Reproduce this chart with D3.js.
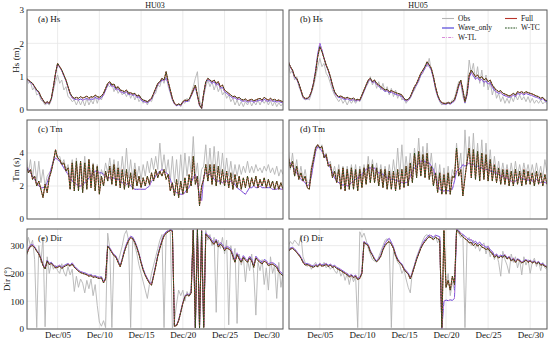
<!DOCTYPE html>
<html>
<head>
<meta charset="utf-8">
<script src="https://cdn.jsdelivr.net/npm/d3@7"></script>
<style>
  body { margin: 0; background: #fff; }
  svg { display: block; font-family: 'Liberation Serif', 'Times New Roman', serif; }
</style>
</head>
<body>
<svg id="chart" width="550" height="341"></svg>
<script>
// stations, ticks, legend
const stations = ['HU03', 'HU05'];
const tickDays = [5, 10, 15, 20, 25, 30];
const hsTicks = [0, 1, 2, 3];
const tmTicks = [0, 2, 4];
const dirTicks = [0, 100, 200, 300];
const seriesNames = ['Obs', 'Wave_only', 'W-TL', 'Full', 'W-TC'];

// 6-hourly values, Dec 1 06:00 .. Jan 1 00:00 (124 samples)
const hsA_obs = [
  1.0,0.8,0.85,0.6,0.7,0.45,0.5,0.3,0.25,0.15,
  0.2,0.15,0.3,0.6,0.85,1.05,0.8,0.9,0.6,0.7,
  0.4,0.35,0.25,0.3,0.15,0.3,0.15,0.3,0.12,0.35,
  0.15,0.3,0.18,0.4,0.2,0.4,0.3,0.5,0.6,0.75,
  0.7,0.8,0.55,0.7,0.5,0.6,0.45,0.55,0.4,0.55,
  0.35,0.5,0.3,0.45,0.25,0.35,0.2,0.3,0.15,0.3,
  0.25,0.45,0.5,0.75,0.7,0.95,0.8,1.05,0.7,0.5,
  0.3,0.2,0.12,0.2,0.1,0.25,0.2,0.35,0.25,0.5,
  0.7,0.95,1.15,0.3,0.08,0.4,0.7,0.9,0.7,0.85,
  0.6,0.8,0.55,0.7,0.45,0.55,0.35,0.45,0.25,0.35,
  0.15,0.3,0.12,0.25,0.1,0.25,0.15,0.28,0.12,0.25,
  0.15,0.3,0.15,0.3,0.2,0.3,0.15,0.28,0.12,0.25,
  0.1,0.22,0.12,0.2];
const hsA_full = [
  0.95,0.9,0.85,0.8,0.7,0.6,0.55,0.4,0.3,0.2,
  0.25,0.2,0.35,0.7,1.1,1.4,1.3,1.2,1.05,0.9,
  0.7,0.5,0.4,0.35,0.38,0.35,0.4,0.36,0.38,0.42,
  0.35,0.4,0.38,0.45,0.4,0.38,0.42,0.5,0.65,0.8,
  0.85,0.75,0.78,0.65,0.7,0.6,0.58,0.55,0.6,0.5,
  0.52,0.48,0.5,0.42,0.45,0.35,0.3,0.28,0.25,0.3,
  0.35,0.5,0.65,0.8,0.85,0.95,0.9,1.15,0.85,0.6,
  0.35,0.2,0.15,0.18,0.15,0.25,0.3,0.28,0.32,0.45,
  0.6,0.75,0.45,0.15,0.05,0.5,0.85,0.95,0.9,0.85,
  0.9,0.8,0.85,0.7,0.75,0.6,0.55,0.5,0.45,0.4,
  0.42,0.35,0.38,0.32,0.3,0.33,0.28,0.3,0.32,0.28,
  0.3,0.33,0.35,0.3,0.38,0.33,0.3,0.35,0.3,0.32,
  0.28,0.3,0.27,0.25];
const hsA_wave = [
  0.95,0.88,0.82,0.78,0.68,0.58,0.52,0.38,0.28,0.2,
  0.22,0.2,0.33,0.68,1.08,1.38,1.28,1.18,1.02,0.88,
  0.68,0.48,0.36,0.32,0.32,0.3,0.33,0.3,0.32,0.35,
  0.3,0.33,0.32,0.38,0.34,0.33,0.37,0.45,0.6,0.75,
  0.8,0.7,0.72,0.6,0.64,0.55,0.53,0.5,0.55,0.46,
  0.48,0.44,0.46,0.38,0.4,0.3,0.26,0.24,0.22,0.27,
  0.32,0.47,0.62,0.76,0.82,0.9,0.88,0.95,0.8,0.55,
  0.32,0.18,0.13,0.16,0.13,0.22,0.27,0.25,0.29,0.42,
  0.56,0.7,0.42,0.13,0.05,0.48,0.82,0.92,0.86,0.8,
  0.85,0.75,0.79,0.65,0.68,0.55,0.5,0.45,0.4,0.36,
  0.37,0.31,0.33,0.28,0.26,0.28,0.24,0.26,0.27,0.24,
  0.26,0.28,0.3,0.26,0.32,0.28,0.26,0.3,0.26,0.27,
  0.24,0.26,0.23,0.22];

const hsB_obs = [
  1.35,1.1,1.2,0.9,1.0,0.7,0.55,0.35,0.3,0.35,
  0.3,0.5,0.7,1.0,1.3,1.55,1.3,1.4,1.1,1.0,
  0.8,0.6,0.45,0.35,0.25,0.35,0.2,0.3,0.15,0.3,
  0.2,0.3,0.2,0.3,0.25,0.4,0.55,0.7,0.8,1.0,
  0.75,0.9,0.65,0.85,0.6,0.8,0.55,0.7,0.45,0.65,
  0.4,0.6,0.35,0.5,0.3,0.35,0.2,0.3,0.35,0.5,
  0.6,0.75,0.85,1.05,1.1,1.35,1.3,1.55,1.2,1.0,
  0.6,0.4,0.25,0.15,0.2,0.15,0.25,0.2,0.3,0.35,
  0.6,0.85,0.8,0.4,0.2,0.7,1.5,1.1,1.4,0.9,
  1.3,0.8,1.2,0.7,1.05,0.6,0.85,0.45,0.7,0.35,
  0.5,0.25,0.4,0.2,0.35,0.2,0.4,0.25,0.45,0.3,
  0.45,0.3,0.4,0.25,0.4,0.22,0.35,0.2,0.3,0.2,
  0.3,0.18,0.25,0.2];
const hsB_full = [
  1.45,1.3,1.2,1.0,0.95,0.8,0.6,0.4,0.35,0.35,
  0.4,0.55,0.8,1.15,1.6,1.9,1.75,1.55,1.35,1.2,
  1.0,0.75,0.55,0.45,0.4,0.42,0.38,0.35,0.38,0.35,
  0.33,0.36,0.3,0.32,0.3,0.45,0.6,0.75,0.9,0.95,
  0.85,0.9,0.8,0.75,0.7,0.65,0.6,0.62,0.55,0.58,
  0.55,0.52,0.5,0.48,0.45,0.35,0.3,0.32,0.4,0.55,
  0.7,0.8,0.95,1.1,1.2,1.3,1.45,1.35,1.25,1.0,
  0.7,0.45,0.3,0.22,0.2,0.2,0.22,0.2,0.25,0.3,
  0.5,0.75,0.9,0.6,0.25,0.5,1.05,1.2,1.1,1.0,
  1.05,0.95,1.0,0.9,0.95,0.85,0.9,0.75,0.65,0.6,
  0.55,0.58,0.5,0.48,0.45,0.42,0.45,0.5,0.45,0.55,
  0.52,0.55,0.5,0.55,0.52,0.5,0.48,0.45,0.42,0.4,
  0.35,0.38,0.3,0.28];
const hsB_wave = [
  1.45,1.28,1.18,0.98,0.92,0.78,0.58,0.38,0.33,0.33,
  0.38,0.55,0.82,1.2,1.68,2.0,1.8,1.55,1.33,1.18,
  0.97,0.72,0.52,0.42,0.37,0.38,0.34,0.31,0.34,0.31,
  0.29,0.32,0.27,0.29,0.28,0.42,0.57,0.72,0.87,0.92,
  0.82,0.86,0.76,0.71,0.66,0.61,0.56,0.58,0.51,0.54,
  0.5,0.47,0.45,0.43,0.4,0.31,0.27,0.29,0.37,0.52,
  0.66,0.76,0.9,1.05,1.15,1.25,1.4,1.3,1.2,0.95,
  0.66,0.42,0.27,0.2,0.18,0.18,0.2,0.18,0.22,0.27,
  0.46,0.7,0.85,0.55,0.22,0.45,0.98,1.12,1.02,0.93,
  0.97,0.88,0.92,0.83,0.87,0.78,0.82,0.68,0.59,0.54,
  0.5,0.52,0.45,0.43,0.4,0.38,0.4,0.45,0.4,0.5,
  0.47,0.5,0.45,0.5,0.47,0.45,0.43,0.4,0.38,0.36,
  0.31,0.34,0.27,0.25];

const tmA_obs = [
  3.8,2.8,3.6,2.5,3.5,2.3,3.5,2.2,3.0,2.0,
  2.6,2.8,3.0,3.6,4.0,3.7,3.8,3.3,3.6,3.0,
  3.3,2.5,3.6,2.4,3.7,2.3,3.5,2.4,3.8,2.5,
  3.6,2.4,3.4,2.3,3.3,2.2,3.0,2.6,3.4,2.8,
  3.7,2.7,3.6,2.6,3.5,2.5,3.8,2.6,4.3,2.5,
  3.6,2.4,3.4,2.5,3.2,2.4,3.3,2.6,3.5,2.8,
  3.7,3.0,3.8,3.0,4.6,3.0,3.9,2.8,3.6,2.3,
  3.8,2.2,3.6,2.1,3.9,2.3,4.0,2.6,3.8,2.8,
  5.0,2.6,3.4,2.0,3.0,3.2,4.5,2.8,4.3,2.7,
  4.4,2.8,4.1,2.7,4.0,2.6,3.7,2.6,3.5,2.5,
  3.3,2.6,3.3,2.7,3.2,2.8,3.5,2.8,3.2,2.8,
  3.3,2.9,3.1,2.8,3.2,2.9,3.3,2.8,3.1,2.7,
  3.2,2.6,3.0,2.7];
const tmA_full = [
  3.2,2.8,3.0,2.4,2.6,2.0,2.3,1.8,1.3,2.1,
  1.6,2.5,2.9,3.5,4.2,3.7,3.6,3.3,3.4,2.9,
  3.1,1.8,3.4,1.7,3.5,1.7,3.5,1.6,3.4,1.8,
  3.6,1.9,3.3,1.7,3.2,1.5,2.6,2.0,2.9,2.3,
  3.2,2.1,3.3,2.0,3.1,1.9,3.0,1.8,3.0,1.9,
  2.8,1.8,3.0,2.0,2.6,1.9,2.5,2.0,2.6,2.1,
  2.8,2.3,3.0,2.5,2.9,2.6,3.0,2.4,2.7,1.7,
  2.2,1.4,2.4,1.3,2.3,1.5,2.5,1.6,2.7,2.0,
  3.8,2.1,2.6,0.8,2.0,2.4,3.3,2.3,3.3,2.1,
  3.3,2.0,3.2,2.1,3.0,2.0,2.9,1.9,2.8,1.8,
  2.7,1.9,2.6,1.8,2.5,1.9,2.6,1.9,2.5,2.0,
  2.6,1.9,2.4,2.0,2.5,1.9,2.4,1.9,2.3,1.8,
  2.3,1.8,2.2,1.8];
const tmA_wave = [
  3.2,3.0,2.8,2.6,2.4,2.2,2.0,1.9,1.9,1.95,
  2.2,2.6,3.1,3.5,3.7,3.6,3.5,3.3,3.1,2.9,
  2.7,2.5,2.3,2.2,2.1,2.0,2.0,2.1,2.2,2.3,
  2.5,2.6,2.8,2.9,2.9,2.8,2.8,2.7,2.6,2.5,
  2.5,2.4,2.5,2.4,2.4,2.3,2.2,2.2,2.1,2.2,
  2.0,1.9,1.8,1.8,1.8,1.8,1.8,1.8,1.9,2.0,
  2.3,2.4,2.6,2.8,2.9,3.0,2.9,2.8,2.7,2.4,
  2.0,1.7,1.6,1.55,1.5,1.5,1.6,1.8,1.9,2.2,
  2.5,2.7,2.2,1.4,1.1,2.6,2.8,2.7,2.7,2.6,
  2.4,2.3,2.3,2.3,2.2,2.3,2.3,2.2,2.3,2.2,
  2.1,1.9,1.8,1.7,1.6,1.5,1.7,1.9,1.9,2.0,
  1.9,1.9,2.0,1.9,1.9,1.9,1.9,1.9,1.8,1.8,
  1.8,1.9,1.8,1.8];

const tmB_obs = [
  4.2,3.0,4.0,2.8,3.6,2.5,3.2,2.4,3.0,2.2,
  2.2,3.2,3.8,4.4,4.5,4.2,4.5,3.8,4.0,3.3,
  3.5,2.7,3.2,2.5,3.3,2.2,3.2,2.2,3.2,2.3,
  3.3,2.4,3.3,2.3,3.2,2.4,3.3,2.5,3.8,2.6,
  3.6,2.6,3.4,2.5,3.3,2.4,3.2,2.4,3.3,2.4,
  3.6,2.5,4.3,2.6,4.5,2.6,3.8,2.7,4.0,2.8,
  4.3,3.0,4.9,3.1,4.4,3.0,4.6,2.9,4.0,2.6,
  3.4,2.1,3.3,2.0,3.1,2.0,3.2,2.1,3.0,2.6,
  4.6,3.0,4.0,2.0,5.4,3.2,5.0,3.0,5.2,3.0,
  4.6,2.9,4.8,2.8,4.6,2.8,4.2,2.7,3.8,2.7,
  3.5,2.6,3.4,2.6,3.3,2.5,3.4,2.5,3.5,2.6,
  3.3,2.6,3.4,2.7,3.3,2.6,3.3,2.6,3.4,2.6,
  3.2,2.5,3.6,2.8];
const tmB_full = [
  3.8,3.1,3.5,2.6,3.2,2.4,2.8,2.3,2.6,1.9,
  1.8,3.0,3.6,4.3,4.5,4.3,4.4,3.7,3.9,3.2,
  3.3,2.5,2.9,2.2,3.0,1.8,3.1,1.7,3.0,1.8,
  3.1,1.8,3.0,1.7,3.0,1.9,3.1,2.1,3.3,2.2,
  3.3,2.2,3.1,2.0,3.0,1.9,3.0,1.8,2.9,1.8,
  2.9,1.7,3.0,1.8,3.0,1.9,3.2,2.0,3.4,2.2,
  4.0,2.5,4.1,2.6,3.9,2.5,4.0,2.4,3.2,2.0,
  2.8,1.6,2.8,1.5,2.7,1.5,2.8,1.5,2.6,2.5,
  4.3,2.6,3.0,1.4,2.5,3.5,4.3,2.5,4.2,2.4,
  4.1,2.3,4.0,2.4,3.9,2.3,3.6,2.3,3.3,2.2,
  3.1,2.1,3.0,2.1,3.0,2.0,2.9,2.0,3.0,2.1,
  2.9,2.0,3.0,2.1,2.9,2.1,2.8,2.0,2.9,2.1,
  2.8,2.0,2.7,2.1];
const tmB_wave = [
  3.5,3.4,3.2,3.0,2.8,2.6,2.4,2.3,2.2,2.0,
  2.1,2.6,3.4,4.1,4.4,4.3,4.1,3.9,3.7,3.4,
  3.1,2.8,2.5,2.3,2.2,2.1,2.05,2.1,2.0,2.1,
  2.2,2.3,2.4,2.5,2.6,2.7,2.9,3.0,3.1,3.1,
  3.0,3.1,2.9,2.8,2.8,2.7,2.6,2.5,2.5,2.4,
  2.4,2.35,2.3,2.3,2.2,2.2,2.2,2.3,2.6,2.9,
  3.1,3.2,3.4,3.5,3.5,3.5,3.4,3.4,3.2,3.0,
  2.6,2.1,1.8,1.7,1.7,1.75,1.7,1.8,1.8,2.3,
  2.9,3.0,3.1,3.3,3.2,3.3,3.4,3.3,3.3,3.2,
  3.2,3.1,3.1,3.0,3.0,3.0,2.9,2.9,2.8,2.8,
  2.7,2.6,2.6,2.5,2.5,2.4,2.3,2.2,2.3,2.4,
  2.5,2.5,2.4,2.4,2.35,2.4,2.3,2.3,2.4,2.3,
  2.2,2.3,2.2,2.2];

const dirA_obs = [
  290,330,300,320,250,5,300,240,330,8,
  260,200,240,215,230,210,200,235,205,190,
  225,195,215,135,190,150,180,165,130,175,
  145,180,120,160,85,25,10,30,5,345,
  290,5,270,260,240,270,300,340,355,320,
  5,330,300,270,230,200,170,140,110,160,
  200,230,260,290,320,340,5,345,355,350,
  3,30,90,140,120,140,100,135,120,145,
  355,10,350,5,340,3,355,320,340,300,
  330,60,320,290,330,270,320,15,300,250,
  290,20,270,230,260,170,250,210,270,200,
  50,240,210,250,160,220,140,260,200,230,
  110,240,150,200];
const dirA_full = [
  265,285,298,300,293,280,270,252,228,216,
  245,232,236,228,220,222,226,218,224,228,
  232,226,234,222,215,208,203,200,198,195,
  190,192,186,188,184,182,184,166,180,298,
  288,275,264,258,240,224,250,278,300,318,
  329,325,312,292,268,238,212,193,178,165,
  158,190,225,262,290,315,335,345,350,355,
  352,10,12,30,60,92,116,124,118,130,
  356,4,358,3,354,6,342,332,325,312,
  305,318,295,305,298,282,292,288,282,262,
  240,268,252,240,258,248,240,256,245,222,
  256,246,240,234,244,240,228,232,233,228,
  222,205,198,191];
const dirA_wave = [
  268,290,302,305,296,283,272,255,232,220,
  248,236,240,232,224,226,230,222,228,232,
  236,230,238,226,219,212,207,204,202,199,
  194,196,190,192,188,186,188,170,184,300,
  292,279,268,262,244,228,254,284,306,324,
  334,330,316,296,272,242,216,197,182,169,
  162,194,229,266,295,320,340,350,354,357,
  355,12,14,33,63,95,119,127,121,133,
  357,5,358,4,355,8,346,337,331,318,
  311,323,301,311,304,288,298,294,288,268,
  246,274,258,246,264,254,246,262,251,228,
  262,252,246,240,250,246,234,238,239,234,
  228,211,204,197];

const dirB_obs = [
  300,315,305,320,310,300,338,260,240,225,
  235,215,230,240,222,235,228,240,220,230,
  215,225,210,200,220,190,205,175,200,160,
  195,170,190,5,350,330,345,320,290,270,
  250,245,240,260,280,300,320,325,310,5,
  280,260,240,230,200,215,180,150,130,210,
  230,260,280,300,320,335,340,330,338,320,
  335,310,330,10,350,150,200,120,170,140,
  350,345,330,340,5,320,330,300,320,290,
  310,280,300,310,270,300,260,280,250,270,
  240,190,280,250,230,200,270,240,260,220,
  250,195,260,230,250,200,240,255,225,245,
  210,240,220,215];
const dirB_full = [
  278,288,290,284,275,266,255,240,230,232,
  228,225,222,228,225,232,226,228,232,225,
  230,222,225,218,214,210,205,200,195,188,
  192,185,190,178,182,200,312,305,300,278,
  265,250,242,250,262,285,300,310,315,305,
  290,265,248,238,230,215,205,198,180,200,
  225,250,270,290,305,315,325,332,328,322,
  330,325,320,5,355,150,175,140,190,160,
  356,350,340,332,325,320,310,312,300,308,
  298,305,295,292,286,290,278,272,258,265,
  255,262,258,265,252,258,245,252,240,250,
  245,238,242,248,240,245,238,242,235,240,
  230,232,226,222];
const dirB_wave = [
  280,292,294,288,279,270,259,244,234,236,
  232,229,226,232,229,236,230,232,236,229,
  234,226,229,222,218,214,209,204,199,192,
  196,189,194,182,186,204,316,309,304,282,
  269,254,246,254,266,290,308,320,326,312,
  295,270,252,242,234,219,209,202,184,204,
  229,254,274,294,310,322,332,338,336,330,
  338,335,332,2,100,104,102,105,103,110,
  358,355,346,340,334,328,320,322,310,316,
  306,313,303,300,294,297,285,279,264,270,
  260,266,262,268,256,261,249,255,244,253,
  248,242,245,251,243,248,241,245,238,243,
  233,235,229,225];

const styles = {
  'Obs':       { color: '#b4b4b4', dash: null, width: 0.9 },
  'Wave_only': { color: '#4436d6', dash: null, width: 0.9 },
  'W-TL':      { color: '#d98bd9', dash: '3,1.2,0.8,1.2', width: 0.9 },
  'Full':      { color: '#b8352b', dash: null, width: 1 },
  'W-TC':      { color: '#24511c', dash: '1.8,1', width: 1 }
};

const times = hsA_obs.map((d, i) => new Date(2020, 11, 1, 6 + 6 * i));
const tickDates = tickDays.map(d => new Date(2020, 11, d));

const cols = [[27, 283], [289, 547]];
const rows = [
  { top: 10, bottom: 110, domain: [0, 3], ticks: hsTicks, title: 'Hs (m)', labelX: 18.5 },
  { top: 120, bottom: 219, domain: [0, 6], ticks: tmTicks, title: 'Tm (s)', labelX: 18.5 },
  { top: 229, bottom: 329, domain: [0, 360], ticks: dirTicks, title: 'Dir (°)', labelX: 10 }
];
const panels = [
  { label: '(a) Hs', row: 0, col: 0, obs: hsA_obs, wave: hsA_wave, full: hsA_full },
  { label: '(b) Hs', row: 0, col: 1, obs: hsB_obs, wave: hsB_wave, full: hsB_full },
  { label: '(c) Tm', row: 1, col: 0, obs: tmA_obs, wave: tmA_wave, full: tmA_full },
  { label: '(d) Tm', row: 1, col: 1, obs: tmB_obs, wave: tmB_wave, full: tmB_full },
  { label: '(e) Dir', row: 2, col: 0, obs: dirA_obs, wave: dirA_wave, full: dirA_full },
  { label: '(f) Dir', row: 2, col: 1, obs: dirB_obs, wave: dirB_wave, full: dirB_full }
];

const svg = d3.select('#chart');

panels.forEach((p, k) => {
  const r = rows[p.row];
  const [left, right] = cols[p.col];
  const x = d3.scaleTime()
    .domain([new Date(2020, 11, 1, 8), new Date(2021, 0, 1, 0)])
    .range([left, right]);
  const y = d3.scaleLinear().domain(r.domain).range([r.bottom, r.top]);
  const g = svg.append('g');

  g.append('clipPath').attr('id', 'clip' + k)
    .append('rect')
    .attr('x', left).attr('y', r.top)
    .attr('width', right - left).attr('height', r.bottom - r.top);

  // grid
  g.append('g')
    .selectAll('line')
    .data(tickDates)
    .enter()
    .append('line')
    .attr('x1', d => x(d)).attr('x2', d => x(d))
    .attr('y1', r.top).attr('y2', r.bottom)
    .attr('stroke', '#e6e6e6').attr('stroke-width', 0.8);
  g.append('g')
    .selectAll('line')
    .data(r.ticks)
    .enter()
    .append('line')
    .attr('x1', left).attr('x2', right)
    .attr('y1', d => y(d)).attr('y2', d => y(d))
    .attr('stroke', '#e6e6e6').attr('stroke-width', 0.8);

  const line = d3.line()
    .x((d, i) => x(times[i]))
    .y(d => y(d));
  const plotted = [
    ['Obs', p.obs], ['Wave_only', p.wave], ['W-TL', p.wave], ['Full', p.full], ['W-TC', p.full]
  ];
  const lines = g.append('g').attr('clip-path', `url(#clip${k})`);
  plotted.forEach(([name, vals]) => {
    const s = styles[name];
    lines.append('path')
      .datum(vals)
      .attr('d', line)
      .attr('fill', 'none')
      .attr('stroke', s.color)
      .attr('stroke-width', s.width)
      .attr('stroke-linejoin', 'round')
      .attr('stroke-dasharray', s.dash);
  });

  // frame
  g.append('rect')
    .attr('x', left).attr('y', r.top)
    .attr('width', right - left).attr('height', r.bottom - r.top)
    .attr('fill', 'none').attr('stroke', '#5a5a5a').attr('stroke-width', 1);

  g.append('text')
    .attr('x', left + 11).attr('y', r.top + 11.5)
    .attr('font-size', 9).attr('fill', '#111')
    .text(p.label);

  if (p.col === 0) {
    const ya = g.append('g')
      .attr('transform', `translate(${left - 2}, 0)`)
      .call(d3.axisLeft(y).tickValues(r.ticks).tickSize(0).tickPadding(1)
        .tickFormat(d3.format('d')));
    ya.select('.domain').remove();
    ya.attr('font-family', null);
    ya.selectAll('text')
      .attr('font-size', 9).attr('fill', '#111');
    g.append('text')
      .attr('transform', `translate(${r.labelX}, ${(r.top + r.bottom) / 2}) rotate(-90)`)
      .attr('text-anchor', 'middle')
      .attr('font-size', 9).attr('fill', '#111')
      .text(r.title);
  }
  if (p.row === 0) {
    g.append('text')
      .attr('x', (left + right) / 2).attr('y', 8)
      .attr('text-anchor', 'middle')
      .attr('font-size', 8).attr('fill', '#111')
      .text(stations[p.col]);
  }
  if (p.row === 2) {
    const xa = g.append('g')
      .attr('transform', `translate(0, ${r.bottom})`)
      .call(d3.axisBottom(x).tickValues(tickDates).tickSize(0).tickPadding(3)
        .tickFormat(d3.timeFormat('%b/%d')));
    xa.select('.domain').remove();
    xa.attr('font-family', null);
    xa.selectAll('text')
      .attr('font-size', 9).attr('fill', '#111');
  }
});

// legend in panel (b)
const legendPos = [[442, 18.5], [442, 28], [442, 37.5], [505, 18.5], [505, 28]];
const legend = svg.append('g')
  .attr('font-size', 7.5)
  .selectAll('g')
  .data(seriesNames)
  .enter()
  .append('g')
  .attr('transform', (d, i) => `translate(${legendPos[i][0]}, ${legendPos[i][1]})`);
legend.append('line')
  .attr('x1', 0).attr('x2', 12)
  .attr('stroke', d => styles[d].color)
  .attr('stroke-width', 1.1)
  .attr('stroke-dasharray', d => styles[d].dash);
legend.append('text')
  .attr('x', 16)
  .attr('dy', '0.32em')
  .attr('fill', '#111')
  .text(d => d);
</script>
</body>
</html>
